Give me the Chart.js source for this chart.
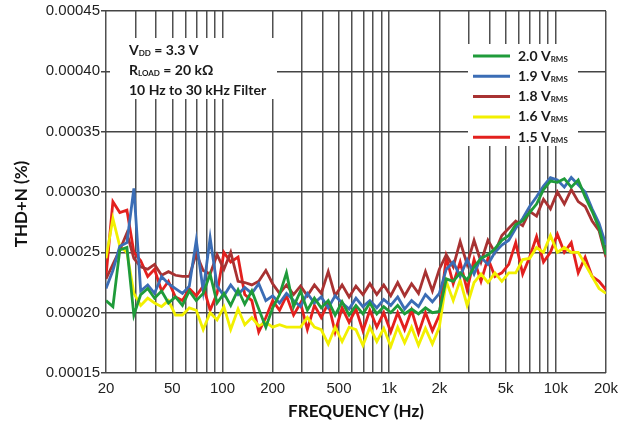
<!DOCTYPE html>
<html lang="en">
<head>
    <meta charset="UTF-8">
    <title>THD+N vs Frequency</title>
    <script src="https://cdn.jsdelivr.net/npm/chart.js"></script>
    <style>
        html, body { margin: 0; padding: 0; background: #fff; }
        #wrap { width: 629px; height: 429px; position: relative; }
    </style>
</head>
<body>
<div id="wrap"><canvas id="thdChart"></canvas></div>
<script>
    // measurement frequencies (Hz), roughly 1/24 decade apart
    const freqs = [20, 22, 24.2, 26.7, 29.4, 32.3, 35.6, 39.1, 43.1, 47.4, 52.2, 57.5, 63.2, 69.6, 76.6, 84.3, 92.8,
        102, 112, 124, 136, 150, 165, 182, 200, 220, 242, 267, 294, 323, 356, 391, 431, 474, 522, 575, 632, 696, 766, 843, 928,
        1022, 1125, 1238, 1363, 1500, 1651, 1817, 2000, 2201, 2423, 2667, 2936, 3231, 3557, 3915, 4309, 4743, 5220, 5746,
        6325, 6962, 7662, 8434, 9283, 10218, 11247, 12379, 13626, 14998, 16508, 18170, 20000];

    // THD+N readings, in units of 1e-5 %
    const thd20 = [21.0, 20.5, 25.2, 25.4, 19.8, 21.5, 22.0, 21.2, 21.8, 20.8, 21.3, 20.6, 21.8, 21.0, 21.6, 23.2, 20.8,
        21.6, 20.6, 21.9, 20.7, 21.8, 20.3, 18.8, 20.4, 21.5, 23.3, 20.5, 21.8, 20.2, 21.2, 20.4, 21.0, 19.8, 20.9, 19.8, 20.6, 19.9, 20.8, 19.9, 20.5,
        20.0, 20.6, 19.9, 20.3, 19.9, 20.4, 20.0, 20.1, 22.8, 22.6, 23.3, 22.7, 23.8, 24.5, 24.8, 25.3, 26.0, 26.4, 27.3,
        27.6, 28.3, 29.0, 30.2, 30.9, 30.8, 31.1, 30.4, 31.0, 29.6, 28.4, 27.0, 24.8];
    const thd19 = [22.0, 23.5, 25.5, 25.8, 30.3, 21.8, 22.3, 21.6, 23.0, 22.4, 22.0, 21.6, 22.2, 26.0, 21.8, 26.2, 22.2,
        21.4, 22.3, 21.5, 22.1, 21.6, 22.4, 21.0, 21.4, 20.8, 21.6, 21.0, 20.5, 21.6, 20.8, 21.3, 20.4, 21.4, 20.8, 20.3, 21.2, 20.5, 21.0, 20.4, 21.1,
        20.6, 21.3, 20.3, 21.0, 20.5, 21.5, 20.9, 21.6, 23.6, 24.2, 23.0, 24.4, 23.2, 24.6, 24.0, 25.0, 25.6, 26.0, 27.0,
        27.8, 28.8, 29.6, 30.5, 31.2, 31.0, 30.4, 31.2, 30.6, 30.0, 28.6, 27.4, 25.6];
    const thd18 = [22.8, 24.0, 25.2, 26.6, 24.5, 23.8, 23.6, 24.0, 23.1, 23.4, 23.1, 23.0, 23.0, 24.9, 23.5, 23.2, 24.8,
        23.6, 25.0, 22.6, 22.5, 22.3, 22.6, 23.5, 22.4, 21.6, 22.3, 21.5, 22.2, 21.4, 22.3, 21.6, 23.4, 21.4, 22.3, 21.3, 22.2, 21.5, 22.4, 21.5, 22.3,
        21.4, 22.5, 21.4, 22.4, 21.6, 23.4, 21.8, 23.6, 24.8, 23.8, 25.9, 24.0, 26.0, 24.2, 26.0, 25.0, 26.4, 27.0, 27.6,
        27.2, 28.4, 28.0, 29.4, 28.6, 30.0, 29.0, 30.2, 29.2, 28.8, 27.6, 26.8, 24.6];
    const thd16 = [24.5, 27.8, 25.5, 25.0, 21.6, 20.6, 21.2, 20.8, 20.5, 21.0, 19.8, 19.8, 20.4, 20.2, 18.6, 20.0, 19.4,
        20.5, 18.6, 20.3, 19.0, 19.6, 18.9, 19.2, 18.8, 19.0, 18.8, 18.8, 18.8, 19.6, 18.8, 18.6, 17.4, 18.8, 17.6, 18.8, 18.6, 17.3, 18.8, 17.6, 18.7,
        17.2, 18.8, 17.5, 18.8, 17.3, 18.7, 17.4, 18.8, 22.6, 21.0, 22.7, 20.6, 22.5, 23.2, 22.5, 23.3, 22.6, 23.3, 23.3,
        24.4, 24.5, 25.4, 25.0, 26.4, 25.0, 25.4, 25.0, 25.0, 24.0, 23.0, 22.0, 21.6];
    const thd15 = [23.0, 29.2, 28.3, 28.5, 25.0, 24.3, 23.0, 23.6, 21.8, 22.6, 21.3, 21.0, 22.0, 21.4, 22.2, 20.2, 21.6,
        25.0, 24.2, 24.6, 21.5, 21.0, 18.4, 19.6, 21.0, 20.2, 21.4, 19.8, 20.8, 18.6, 20.6, 19.6, 20.8, 18.4, 20.4, 19.2, 20.3, 18.5, 20.2, 18.8, 20.0,
        18.4, 20.0, 18.6, 20.2, 18.3, 20.0, 18.5, 19.8, 24.6, 22.4, 24.2, 21.9, 24.4, 22.6, 24.5, 23.0, 23.3, 24.0, 25.8,
        23.2, 24.6, 26.3, 24.2, 25.0, 26.5, 25.0, 25.8, 23.3, 24.6, 23.0, 22.6, 21.9];

    const seriesNames = ['2.0', '1.9', '1.8', '1.6', '1.5'];
    const seriesValues = [thd20, thd19, thd18, thd16, thd15];
    const seriesColors = ['#1f9b3a', '#3b6db5', '#a83232', '#f2f000', '#e3201e'];

    // axis ticks
    const yTicks = [0.00015, 0.00020, 0.00025, 0.00030, 0.00035, 0.00040, 0.00045];
    const xGrid = [20, 30, 40, 50, 60, 70, 80, 90, 100, 200, 300, 400, 500, 600, 700, 800, 900,
        1000, 2000, 3000, 4000, 5000, 6000, 7000, 8000, 9000, 10000, 20000];
    const xLabelValues = [20, 50, 100, 200, 500, 1000, 2000, 5000, 10000, 20000];
    const xLabelText = ['20', '50', '100', '200', '500', '1k', '2k', '5k', '10k', '20k'];

    const notesLines = [['V', 'DD', ' = 3.3 V'], ['R', 'LOAD', ' = 20 k\u03A9'], ['10 Hz to 30 kHz Filter', '', '']];

    // text with a subscript part in the middle
    function subText(ctx, x, y, main, sub, rest, size) {
        ctx.font = 'bold ' + size + 'px Lato';
        ctx.fillText(main, x, y);
        x += ctx.measureText(main).width;
        if (sub) {
            ctx.font = 'bold ' + Math.round(size * 0.6) + 'px Lato';
            ctx.fillText(sub, x, y + 3);
            x += ctx.measureText(sub).width;
        }
        ctx.font = 'bold ' + size + 'px Lato';
        ctx.fillText(rest, x, y);
    }

    const notesPlugin = {
        id: 'notes',
        beforeDatasetsDraw(chart) {
            const ctx = chart.ctx;
            ctx.save();
            // white boxes behind the text blocks
            ctx.fillStyle = '#fff';
            ctx.fillRect(110, 38, 167, 61);
            ctx.fillRect(468, 44, 110, 102);

            ctx.fillStyle = '#1a1a1a';
            ctx.textBaseline = 'middle';
            notesLines.forEach((l, i) => subText(ctx, 129, 50 + i * 20, l[0], l[1], l[2], 14));

            // legend
            seriesNames.forEach((n, i) => {
                const y = 56 + i * 20.3;
                ctx.strokeStyle = seriesColors[i];
                ctx.lineWidth = 3;
                ctx.beginPath();
                ctx.moveTo(473, y);
                ctx.lineTo(510, y);
                ctx.stroke();
                ctx.fillStyle = '#1a1a1a';
                subText(ctx, 518, y, n + ' V', 'RMS', '', 14);
            });

            // y axis title
            ctx.translate(22, 204);
            ctx.rotate(-Math.PI / 2);
            ctx.textAlign = 'center';
            ctx.font = 'bold 17px Lato';
            ctx.fillStyle = '#111';
            ctx.fillText('THD+N (%)', 0, 0);
            ctx.restore();
        }
    };

    new Chart(document.getElementById('thdChart'), {
        type: 'line',
        data: {
            datasets: seriesNames.map((n, i) => ({
                label: n + ' VRMS',
                data: freqs.map((f, j) => ({ x: f, y: seriesValues[i][j] * 1e-5 })),
                borderColor: seriesColors[i],
                borderWidth: 2.8,
                pointRadius: 0,
                tension: 0,
                fill: false
            }))
        },
        options: {
            responsive: true,
            maintainAspectRatio: false,
            animation: false,
            layout: { padding: { top: 11, right: 23, bottom: 0, left: 0 } },
            plugins: {
                legend: { display: false },
                tooltip: { enabled: false }
            },
            scales: {
                x: {
                    type: 'logarithmic',
                    min: 20,
                    max: 20000,
                    afterBuildTicks: axis => { axis.ticks = xGrid.map(v => ({ value: v })); },
                    afterFit: axis => { axis.height = 56; },
                    ticks: {
                        autoSkip: false,
                        maxRotation: 0,
                        padding: 7,
                        color: '#222',
                        font: { family: 'Liberation Sans', size: 15 },
                        callback: v => {
                            const i = xLabelValues.indexOf(v);
                            return i >= 0 ? xLabelText[i] : '';
                        }
                    },
                    grid: { color: '#505050', lineWidth: 1.5, drawTicks: false },
                    border: { display: false },
                    title: {
                        display: true,
                        text: 'FREQUENCY (Hz)',
                        color: '#111',
                        font: { family: 'Lato', weight: 'bold', size: 17 },
                        padding: { top: 0, bottom: 7 }
                    }
                },
                y: {
                    min: 0.00015,
                    max: 0.00045,
                    afterBuildTicks: axis => { axis.ticks = yTicks.map(v => ({ value: v })); },
                    afterFit: axis => { axis.width = 106; },
                    ticks: {
                        padding: 1,
                        color: '#222',
                        font: { family: 'Liberation Sans', size: 15 },
                        callback: v => v.toFixed(5)
                    },
                    grid: { color: '#444', lineWidth: 1.5, tickLength: 5 },
                    border: { display: false }
                }
            }
        },
        plugins: [notesPlugin]
    });
</script>
</body>
</html>
